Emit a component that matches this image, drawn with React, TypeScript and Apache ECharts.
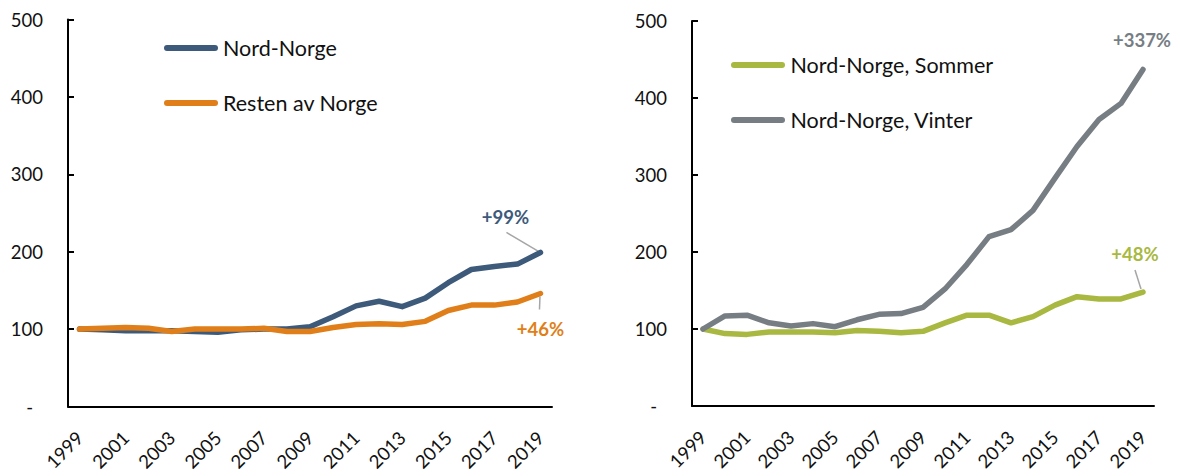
import React, { useEffect, useRef } from "react";
import * as echarts from "echarts";

const years = [
  "1999", "2000", "2001", "2002", "2003", "2004", "2005", "2006", "2007", "2008",
  "2009", "2010", "2011", "2012", "2013", "2014", "2015", "2016", "2017", "2018", "2019",
];
const nordNorge = [100, 99, 98, 98, 98, 97, 96, 99, 100, 100, 103, 116, 130, 136, 129, 140, 160, 177, 181, 184, 199];
const restenAvNorge = [100, 101, 102, 101, 97, 100, 100, 100, 101, 97, 97, 102, 106, 107, 106, 110, 124, 131, 131, 135, 146];
const sommer = [100, 94, 93, 96, 96, 96, 95, 98, 97, 95, 97, 108, 118, 118, 108, 116, 131, 142, 139, 139, 148];
const vinter = [100, 117, 118, 108, 104, 107, 103, 112, 119, 120, 128, 152, 184, 220, 229, 254, 296, 337, 372, 393, 437];
const yTicks = [0, 100, 200, 300, 400, 500];
const annotations = ["+99%", "+46%", "+337%", "+48%"];

const BLUE = "#3d5a7a";
const ORANGE = "#e07f19";
const GREEN = "#a8b840";
const GRAY = "#767e84";
const FONT = "Lato, 'Noto Sans', sans-serif";
const LEGEND_ICON = "path://M3,0 H51 A3,3 0 0 1 51,6 H3 A3,3 0 0 1 3,0 Z";

export default function App() {
  const ref = useRef<HTMLDivElement>(null);
  useEffect(() => {
    document.body.style.margin = "0";
    if (!ref.current) return;
    const chart = echarts.init(ref.current, null, { renderer: "svg" });
    const yMax = yTicks[yTicks.length - 1];
    const yInt = yTicks[1] - yTicks[0];
    const mkX = (gridIndex: number) => ({
      type: "category",
      gridIndex,
      data: years,
      boundaryGap: true,
      axisLine: { show: true, lineStyle: { color: "#000", width: 2 } },
      axisTick: { show: false },
      axisLabel: {
        interval: 1,
        rotate: 45,
        margin: 28,
        fontSize: 18.5,
        fontFamily: FONT,
        color: "#111",
      },
      splitLine: { show: false },
    });
    const mkY = (gridIndex: number) => ({
      type: "value",
      gridIndex,
      min: yTicks[0],
      max: yMax,
      interval: yInt,
      axisLine: { show: true, lineStyle: { color: "#000", width: 2 } },
      axisTick: { show: true, inside: true, length: 6, lineStyle: { color: "#000", width: 2 } },
      splitLine: { show: false },
      axisLabel: {
        margin: 25,
        fontSize: 18.5,
        fontFamily: FONT,
        color: "#111",
        formatter: (v: number) => (v === 0 ? "{d|-}" : String(v)),
        rich: { d: { fontSize: 18.5, fontFamily: FONT, color: "#111", padding: [0, 10, 0, 0] } },
      },
    });
    const mkS = (name: string, data: number[], color: string, idx: number) => ({
      type: "line",
      name,
      data,
      xAxisIndex: idx,
      yAxisIndex: idx,
      symbol: "none",
      color,
      lineStyle: { width: 5.5, color, cap: "round", join: "round" },
    });
    const legendText = { fontSize: 21.5, fontFamily: FONT, color: "#111" };
    chart.setOption({
      animation: false,
      grid: [
        { left: 68, top: 19.5, width: 484, height: 387 },
        { left: 692, top: 21, width: 462, height: 385 },
      ],
      xAxis: [mkX(0), mkX(1)],
      yAxis: [mkY(0), mkY(1)],
      legend: [
        {
          data: ["Nord-Norge", "Resten av Norge"],
          orient: "vertical",
          left: 159,
          top: 32,
          icon: LEGEND_ICON,
          itemWidth: 54,
          itemHeight: 6,
          itemGap: 33,
          textStyle: legendText,
        },
        {
          data: ["Nord-Norge, Sommer", "Nord-Norge, Vinter"],
          orient: "vertical",
          left: 726,
          top: 49,
          icon: LEGEND_ICON,
          itemWidth: 55,
          itemHeight: 6,
          itemGap: 33,
          textStyle: legendText,
        },
      ],
      series: [
        mkS("Nord-Norge", nordNorge, BLUE, 0),
        mkS("Resten av Norge", restenAvNorge, ORANGE, 0),
        mkS("Nord-Norge, Sommer", sommer, GREEN, 1),
        mkS("Nord-Norge, Vinter", vinter, GRAY, 1),
      ],
    });

    const last = years.length - 1;
    const pt = (si: number, arr: number[]) =>
      chart.convertToPixel({ seriesIndex: si }, [last, arr[last]]) as number[];
    const p0 = pt(0, nordNorge);
    const p1 = pt(1, restenAvNorge);
    const p2 = pt(2, sommer);
    const p3 = pt(3, vinter);
    const txt = (x: number, y: number, s: string, fill: string) => ({
      type: "text",
      x,
      y,
      style: {
        text: s,
        fill,
        fontSize: 18.5,
        fontWeight: "bold",
        fontFamily: FONT,
        align: "center",
        verticalAlign: "middle",
      },
    });
    const lead = (x1: number, y1: number, x2: number, y2: number) => ({
      type: "line",
      shape: { x1, y1, x2, y2 },
      style: { stroke: "#a6a6a6", lineWidth: 1.5 },
    });
    chart.setOption({
      graphic: [
        txt(p0[0] - 35, p0[1] - 35, annotations[0], BLUE),
        lead(p0[0] - 34, p0[1] - 20, p0[0] - 2, p0[1] - 1),
        txt(p1[0], p1[1] + 36, annotations[1], ORANGE),
        lead(p1[0] - 1, p1[1] + 16, p1[0] - 0.5, p1[1] + 3),
        txt(p3[0] - 1, p3[1] - 30, annotations[2], GRAY),
        txt(p2[0] - 8, p2[1] - 38, annotations[3], GREEN),
        lead(p2[0] - 8, p2[1] - 22, p2[0] - 2, p2[1] - 3),
      ],
    });
    return () => chart.dispose();
  }, []);
  return <div ref={ref} style={{ width: 1180, height: 476 }} />;
}
